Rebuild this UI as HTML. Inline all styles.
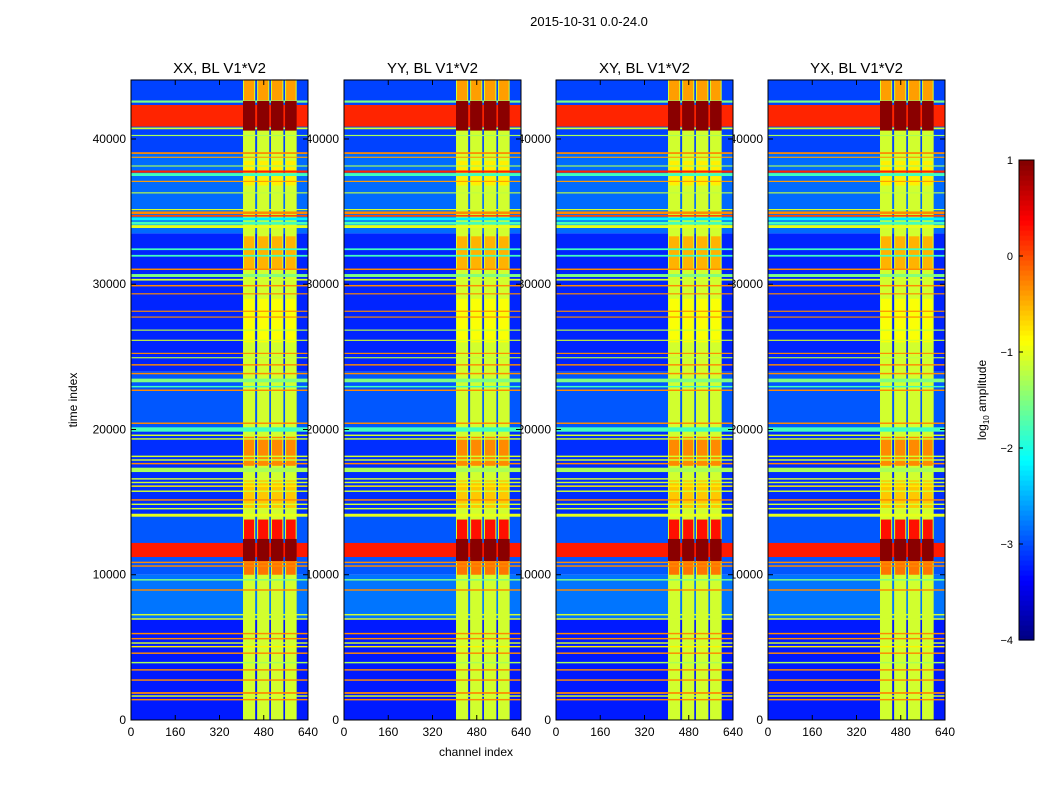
<!DOCTYPE html>
<html><head><meta charset="utf-8"><style>
body{margin:0;background:#fff;}
svg{display:block;font-family:"Liberation Sans",sans-serif;}
</style></head><body>
<svg id="fig" width="1050" height="800" viewBox="0 0 1050 800" xmlns="http://www.w3.org/2000/svg">
<rect width="1050" height="800" fill="#fff"/>
<text x="589" y="26" font-size="13" text-anchor="middle">2015-10-31 0.0-24.0</text>
<text x="476" y="756" font-size="12" text-anchor="middle">channel index</text>
<text x="77" y="400" font-size="12" text-anchor="middle" transform="rotate(-90 77 400)">time index</text>
<g id="labels"></g>
<g id="panels"></g>
<g id="cbar"></g>
</svg>
<script>
const panelTitles=["XX, BL V1*V2","YY, BL V1*V2","XY, BL V1*V2","YX, BL V1*V2"];
const panelX=[131,344,556,768];
const yTicks=[0,10000,20000,30000,40000];
const xTicks=[0,160,320,480,640];
const cbTicks=[1,0,-1,-2,-3,-4];
const bandStart=[405,456,506,557];
const bandEnd=[449,500,551,599];
const bandLevel=-1.1;
const bgStart=[0,7000,10000,14000,20000,24000,33500,39000];
const bgEnd=[7000,10000,14000,20000,24000,33500,39000,44100];
const bgLevel=[-3.25,-2.8,-2.95,-3.15,-2.95,-3.2,-2.85,-3.05];
const hotStart=[31000,17500,12200,10000,14500,36800,42500,26000];
const hotEnd=[33300,19500,13800,11000,16500,38500,44100,29000];
const hotLevel=[-0.5,-0.3,0.3,-0.2,-0.6,-0.8,-0.4,-0.9];
const lineT=[42500,40670,40200,38970,38700,38100,37680,37450,37040,36250,35100,34830,34650,34400,34100,33870,32350,31900,30980,30500,30250,29850,29300,28100,27700,26800,26100,25200,24900,24400,23800,23250,22900,22650,20380,19850,19550,19300,18100,17850,17600,17070,16550,16300,16050,15700,15100,14800,14500,14000,10800,10550,9600,8900,7200,6900,5900,5550,5250,5000,4550,3900,3400,2700,1800,1600,1350];
const lineLevel=[-1.5,-1.1,-1.3,-0.3,-0.4,-1.3,0.2,-1.8,-0.4,-1.2,-1.1,-0.3,0.0,-2.2,-1.8,-1.0,-1.8,-1.8,-0.3,-1.5,-1.1,-0.3,-0.3,-0.3,-0.3,-1.2,-1.1,-0.3,-1.2,-0.3,-0.3,-1.5,-1.8,-0.3,-0.3,-1.8,-1.1,-1.1,-1.1,-1.1,-0.3,-1.3,-1.1,-1.1,-0.8,-1.1,-0.3,-1.1,-1.1,-1.0,-0.3,-0.3,-1.5,-0.3,-1.1,-1.1,-0.3,-0.3,-1.1,-0.8,-0.3,-1.3,-0.3,-0.3,-0.3,-1.1,-0.3];
const lineWidth=[150,120,80,120,80,80,150,200,80,80,80,180,120,200,200,200,120,120,100,200,120,100,80,80,80,80,80,80,80,100,100,250,100,100,100,300,100,100,100,100,100,300,100,100,100,100,100,100,100,200,100,100,100,100,100,100,100,100,100,100,100,100,100,100,120,100,100];
const thickStart=[40850,11220];
const thickEnd=[42340,12190];
const thickLevel=[0.2,0.25];
const thickBandLevel=[0.95,0.95];

const NS="http://www.w3.org/2000/svg";
const W=177,TOP=80,BOT=720,TMAX=44060;
function jet(L){let v=(L+4)/5;v=Math.max(0,Math.min(1,v));
 const c=x=>Math.round(255*Math.max(0,Math.min(1,x)));
 return `rgb(${c(1.5-Math.abs(4*v-3))},${c(1.5-Math.abs(4*v-2))},${c(1.5-Math.abs(4*v-1))})`;}
function yS(t){return BOT-(t/TMAX)*(BOT-TOP);}
function mk(tag,attrs,parent){const e=document.createElementNS(NS,tag);for(const k in attrs)e.setAttribute(k,attrs[k]);parent.appendChild(e);return e;}
const labels=document.getElementById('labels'),panels=document.getElementById('panels');
panelX.forEach((px,p)=>{
 const xS=ch=>px+ch/640*W;
 yTicks.forEach(t=>{const tx=mk('text',{x:px-5,y:yS(t)+4,'font-size':12,'text-anchor':'end'},labels);tx.textContent=t;
  
  });
 xTicks.forEach(c=>{const tx=mk('text',{x:xS(c),y:736,'font-size':12,'text-anchor':'middle'},labels);tx.textContent=c;
  
  });
 const ti=mk('text',{x:px+W/2,y:73,'font-size':15,'text-anchor':'middle'},labels);ti.textContent=panelTitles[p];
 
 
 const g=mk('g',{},panels);
 
 
 bgStart.forEach((s,i)=>{const r=mk('rect',{x:px,y:yS(bgEnd[i]),width:W,height:yS(bgStart[i])-yS(bgEnd[i]),fill:jet(bgLevel[i])},g);
  
  });
 bandStart.forEach((s,b)=>{
  const r=mk('rect',{x:xS(s),y:TOP,width:xS(bandEnd[b])-xS(s),height:BOT-TOP,fill:jet(bandLevel)},g);
  
  
  hotStart.forEach((h,i)=>{const q=mk('rect',{x:xS(s)+1,y:yS(hotEnd[i]),width:xS(bandEnd[b])-xS(s)-2,height:yS(hotStart[i])-yS(hotEnd[i]),fill:jet(hotLevel[i])},g);
   
   });
 });
 lineT.forEach((t,i)=>{const h=Math.max(1,yS(t)-yS(t+lineWidth[i]));
  const r=mk('rect',{x:px,y:yS(t+lineWidth[i]),width:W,height:h,fill:jet(lineLevel[i])},g);
  
  });
 thickStart.forEach((s,i)=>{
  const r=mk('rect',{x:px,y:yS(thickEnd[i]),width:W,height:yS(s)-yS(thickEnd[i]),fill:jet(thickLevel[i])},g);
  
  
  bandStart.forEach((b,j)=>{const q=mk('rect',{x:xS(b),y:yS(thickEnd[i])-4,width:xS(bandEnd[j])-xS(b),height:yS(s)-yS(thickEnd[i])+8,fill:jet(thickBandLevel[i])},g);
   
   });
 });
 mk('rect',{x:px,y:TOP,width:W,height:BOT-TOP,fill:'none',stroke:'#000','stroke-width':1},g);
 yTicks.forEach(t=>{mk('line',{x1:px,x2:px+5,y1:yS(t),y2:yS(t),stroke:'#000'},g);mk('line',{x1:px+W-5,x2:px+W,y1:yS(t),y2:yS(t),stroke:'#000'},g);});
 xTicks.forEach(c=>{mk('line',{x1:xS(c),x2:xS(c),y1:BOT,y2:BOT-5,stroke:'#000'},g);mk('line',{x1:xS(c),x2:xS(c),y1:TOP,y2:TOP+5,stroke:'#000'},g);});
});
const cb=document.getElementById('cbar');


const cbTop=160,cbBot=640,cbX=1019,cbW=15;
const cbY=L=>cbBot-(L+4)/5*(cbBot-cbTop);
for(let k=0;k<96;k++){const L0=-4+k*5/96;mk('rect',{x:cbX,y:cbY(L0+5/96),width:cbW,height:(cbBot-cbTop)/96+0.6,fill:jet(L0+2.5/96)},cb);}
mk('rect',{x:cbX,y:cbTop,width:cbW,height:cbBot-cbTop,fill:'none',stroke:'#000'},cb);
cbTicks.forEach(L=>{const t=mk('text',{x:1013,y:cbY(L)+4,'font-size':11,'text-anchor':'end'},cb);t.textContent=L<0?'\u2212'+(-L):L;
 
 
 mk('line',{x1:cbX,x2:cbX+4,y1:cbY(L),y2:cbY(L),stroke:'#000'},cb);});
const cl=mk('text',{x:986,y:400,'font-size':12,'text-anchor':'middle',transform:'rotate(-90 986 400)'},cb);
cl.innerHTML='log<tspan font-size="8" dy="3">10</tspan><tspan dy="-3"> amplitude</tspan>';


</script>
</body></html>
